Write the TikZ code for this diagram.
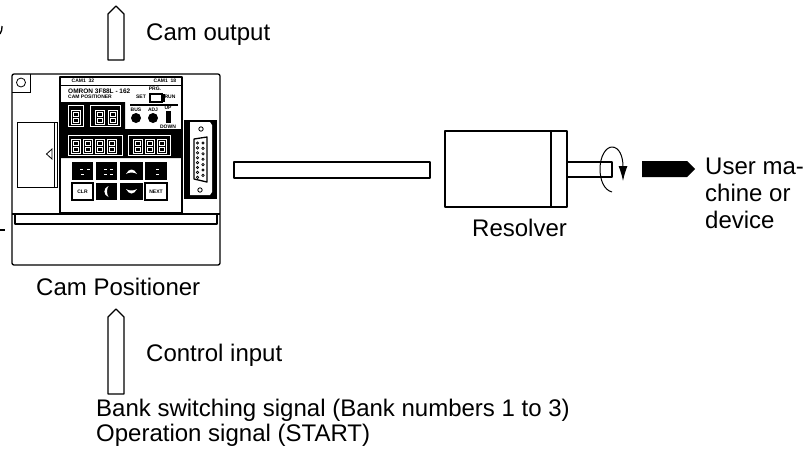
\documentclass[tikz,border=0pt]{standalone}
\usepackage{fontspec}
\setmainfont{Liberation Sans}
\usepackage{tikz}
\usetikzlibrary{arrows.meta,positioning,calc}

\begin{document}
\begin{tikzpicture}[
  x=1pt, y=-1pt, >=Latex,
  caption/.style={font=\fontsize{24}{25}\selectfont, inner sep=0pt, anchor=base west},
  multicaption/.style={font=\fontsize{24}{27}\selectfont, inner sep=0pt, anchor=north west, align=left},
  paneltext/.style={font=\fontsize{5}{5}\selectfont\bfseries, inner sep=0pt},
  outline/.style={line width=1.3pt, line join=round},
  thinline/.style={line width=.8pt},
  keyw/.style={draw=black, line width=1.1pt, fill=white},
  seg/.style={draw=white, line width=.6pt},
  digit/.pic={
    \draw[seg] (0,0) rectangle (9,14);
    \draw[seg] (2,2) rectangle (7,6);
    \draw[seg] (2,8) rectangle (7,12);
  }
]
  \useasboundingbox (0,0) rectangle (810,451);

  % signal arrows
  \draw[outline] (108,60) -- (108,14) -- (116,6) -- (124,14) -- (124,60) -- cycle;
  \draw[outline] (108,394) -- (108,317) -- (116,309) -- (124,317) -- (124,394) -- cycle;
  \node[caption] (camout) at (146,40) {Cam output};
  \node[caption] (ctrlin) at (146,361) {Control input};

  % cam positioner housing
  \draw[outline, rounded corners=2pt] (12,74) rectangle (220,265);
  \draw[outline] (12,214) -- (220,214);
  \draw[outline] (15,214) -- (15,224) -- (217,224) -- (217,214);
  \draw[thinline] (12,92) -- (30,92) -- (30,74);
  \draw[thinline] (21,82.5) circle (4.5);
  \draw[thinline] (17,122) rectangle (54,187);
  \draw[thinline] (54,122) -- (57,122) -- (57,187) -- (54,187);
  \draw[thinline] (52,149) -- (52,159) -- (46.5,154) -- cycle;

  % front panel
  \draw[outline] (60,77) rectangle (182,213);
  \fill (60,102) -- (125,102) -- (125,129) -- (182,129) -- (182,158) -- (60,158) -- cycle;
  \draw[thinline] (60,85) -- (182,85);
  \node[paneltext] (cama) at (83,81) {CAM1\ \ 32};
  \node[paneltext] (camb) at (165,81) {CAM1\ \ 18};
  \node[paneltext, font=\fontsize{6.5}{6.5}\selectfont\bfseries, anchor=west] (model) at (68,91) {OMRON 3F88L - 162};
  \node[paneltext, anchor=west] (series) at (68,97) {CAM POSITIONER};

  % mode switch, trimmers
  \node[paneltext] (prg) at (155,89) {PRG.};
  \node[paneltext] (set) at (141,97) {SET};
  \node[paneltext] (run) at (170,97) {RUN};
  \draw[line width=1.5pt, fill=white] (150,94) rectangle (162,102);
  \fill (162,94) rectangle (165,102);
  \draw[line width=1.2pt] (130,105) -- (178,105);
  \node[paneltext] (bus) at (136,110) {BUS};
  \node[paneltext] (adj) at (153,110) {ADJ};
  \fill (136,118) circle (5);
  \fill (153,118) circle (5);
  \node[paneltext] (up) at (168,108) {UP};
  \node[paneltext] (down) at (168,127) {DOWN};
  \fill (166,111) rectangle (171,123);

  % displays
  \draw[seg] (68,105) rectangle (83,126);
  \draw[seg] (90,105) rectangle (120,126);
  \draw[seg] (68,135) rectangle (122,155);
  \draw[seg] (128,135) rectangle (170,155);
  \pic at (71,110) {digit};
  \foreach \px in {95,108} \pic at (\px,110) {digit};
  \foreach \px in {71,83,95,107} \pic at (\px,139) {digit};
  \foreach \px in {133,145,157} \pic at (\px,139) {digit};

  % keys
  \foreach \kx/\kw in {72/21,96/21,120/23,145/22} \fill (\kx,162) rectangle ++(\kw,18);
  \fill (96,183) rectangle (117,200);
  \fill (120,183) rectangle (143,200);
  \draw[keyw] (72,183) rectangle (93,200);
  \draw[keyw] (145,183) rectangle (167,200);
  \node[paneltext] (clr) at (82.5,191.5) {CLR};
  \node[paneltext] (nxt) at (156,191.5) {NEXT};
  \fill[white] (126,174) .. controls (129,168) and (134,168) .. (137,174) .. controls (134,172) and (129,172) .. cycle;
  \fill[white] (126,189) .. controls (129,191) and (134,191) .. (137,189) .. controls (134,195) and (129,195) .. cycle;
  \fill[white] (108.5,186) .. controls (103,188) and (103,195) .. (108.5,197) .. controls (106.5,194) and (106.5,189) .. cycle;
  \foreach \kx/\ky in {80/169,87/169,104/169,110/169,156/169,81/174,104/174,110/174,156/174}
    \fill[white] (\kx,\ky) rectangle ++(3,1);

  % connector
  \fill (184,120) rectangle (217,199);
  \fill[white] (190,122) -- (210,122) -- (212,125) -- (212,192) -- (210,195) -- (190,195) -- cycle;
  \draw[thinline] (201,129) circle (2.2);
  \draw[thinline] (200,190) circle (2.2);
  \draw[outline] (194,139) -- (207,137) -- (207,182) -- (194,179) -- cycle;
  \foreach \py in {0,...,7} \draw[line width=.7pt] (197.5,143+\py*4.9) circle (1.2);
  \foreach \py in {0,...,6} \draw[line width=.7pt] (203,143+\py*5.4) circle (1.2);

  % cable, resolver
  \draw[outline] (234,162) rectangle (430,178);
  \draw[outline] (445,131) rectangle (567,207);
  \draw[outline] (551,131) -- (551,207);
  \draw[outline] (567,162) -- (612,162) -- (612,177) -- (567,177);
  \draw[line width=1pt, -{Latex[length=15pt,width=9pt]}] (612,192) .. controls (604,190) and (600,180) .. (600,169)
    .. controls (600,156) and (606,147) .. (612,147) .. controls (619,147) and (623,156) .. (623,181);
  \fill (642,161) -- (687,161) -- (695,169) -- (687,177) -- (642,177) -- cycle;

  \node[caption] (campos) at (36,295) {Cam Positioner};
  \node[caption] (resolver) at (472,236) {Resolver};
  \node[multicaption] (user) at (705,158) {User ma-\\chine or\\device};
  \node[multicaption, font=\fontsize{24}{25}\selectfont] (bank) at (96,399) {Bank switching signal (Bank numbers 1 to 3)\\Operation signal (START)};

  % trimmed marks at the left edge
  \draw[outline] (2,26) .. controls (2,29) and (2,31) .. (0,34);
  \draw[outline] (0,230) -- (5,230);
\end{tikzpicture}
\end{document}
